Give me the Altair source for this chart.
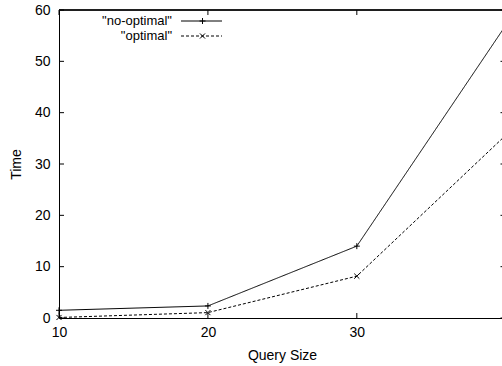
import altair as alt
import pandas as pd

# ---- data ----
series_names = ["no-optimal", "optimal"]
query_size = [10, 20, 30, 40]
no_optimal = [1.5, 2.35, 14.0, 57.0]
optimal = [0.1, 1.05, 8.15, 35.6]
x_tick_values = [10, 20, 30]
y_tick_values = [0, 10, 20, 30, 40, 50, 60]

rows = []
for name, vals in zip(series_names, [no_optimal, optimal]):
    for q, v in zip(query_size, vals):
        rows.append({"series": name, "size": q, "time": v})
df = pd.DataFrame(rows)

# ---- layout ----
W, H = 443, 308
X_VISIBLE_MAX = 39.75  # plot is cropped on the right, as in the reference
FONT = "Liberation Sans"
FS = 14

x_scale = alt.Scale(domain=[10, X_VISIBLE_MAX], nice=False, zero=False)
y_scale = alt.Scale(domain=[0, 60], nice=False, zero=False)

PLUS = "M-1,0H1M0,-1V1"
CROSS = "M-0.85,-0.85L0.85,0.85M-0.85,0.85L0.85,-0.85"

x_axis = alt.Axis(values=x_tick_values, grid=False, ticks=False, tickSize=0,
                  domainColor="black", domainWidth=1, labelColor="black",
                  labelFont=FONT, labelFontSize=FS, labelPadding=7, labelFlush=False,
                  title="Query Size", titleFont=FONT, titleFontSize=FS,
                  titleFontWeight="normal", titleColor="black",
                  titleX=223, titleY=37, titleAlign="center", titleBaseline="middle")
y_axis = alt.Axis(values=y_tick_values, grid=False, ticks=False, tickSize=0,
                  domainColor="black", domainWidth=1, labelColor="black",
                  labelFont=FONT, labelFontSize=FS, labelPadding=9, labelFlush=False,
                  title="Time", titleFont=FONT, titleFontSize=FS,
                  titleFontWeight="normal", titleColor="black", titleAngle=270,
                  titleX=-42.5, titleY=154, titleAlign="center", titleBaseline="middle")

base = alt.Chart(df)

lines = base.mark_line(color="black", strokeWidth=1, clip=True).encode(
    x=alt.X("size:Q", scale=x_scale, axis=x_axis),
    y=alt.Y("time:Q", scale=y_scale, axis=y_axis),
    strokeDash=alt.StrokeDash("series:N",
                              scale=alt.Scale(domain=series_names, range=[[1, 0], [3, 2]]),
                              legend=None),
    detail="series:N",
)

points = base.mark_point(filled=False, color="black", strokeWidth=1, size=36,
                         opacity=1).encode(
    x=alt.X("size:Q", scale=x_scale),
    y=alt.Y("time:Q", scale=y_scale),
    shape=alt.Shape("series:N", scale=alt.Scale(domain=series_names, range=[PLUS, CROSS]),
                    legend=None),
)

xt = pd.DataFrame({"v": x_tick_values})
yt = pd.DataFrame({"v": y_tick_values})

bottom_ticks = alt.Chart(xt).mark_rule(color="black", strokeWidth=1).encode(
    x=alt.X("v:Q", scale=x_scale), y=alt.value(H), y2=alt.value(H - 5))
top_ticks = alt.Chart(xt).mark_rule(color="black", strokeWidth=1).encode(
    x=alt.X("v:Q", scale=x_scale), y=alt.value(0), y2=alt.value(5))
left_ticks = alt.Chart(yt).mark_rule(color="black", strokeWidth=1).encode(
    y=alt.Y("v:Q", scale=y_scale), x=alt.value(0), x2=alt.value(5))
right_ticks = alt.Chart(yt).mark_rule(color="black", strokeWidth=1).encode(
    y=alt.Y("v:Q", scale=y_scale), x=alt.value(W - 1.5), x2=alt.value(W + 8))
top_border = alt.Chart(xt).mark_rule(color="black", strokeWidth=1).encode(
    y=alt.value(0), x=alt.value(0), x2=alt.value(W + 8))

# ---- gnuplot-style key (label, then sample) ----
legend_layers = []
for i, name in enumerate(series_names):
    ly = 11 + i * 15
    one = pd.DataFrame({"label": [f'"{name}"']})
    legend_layers.append(alt.Chart(one).mark_text(
        align="right", baseline="middle", font=FONT, fontSize=13, color="black").encode(
        text="label:N", x=alt.value(113), y=alt.value(ly)))
    legend_layers.append(alt.Chart(one).mark_rule(
        color="black", strokeWidth=1, strokeDash=[1, 0] if i == 0 else [3, 2]).encode(
        x=alt.value(122), x2=alt.value(163), y=alt.value(ly)))
    legend_layers.append(alt.Chart(one).mark_point(
        filled=False, color="black", strokeWidth=1, size=36, opacity=1,
        shape=PLUS if i == 0 else CROSS).encode(x=alt.value(143.5), y=alt.value(ly)))

chart = alt.layer(lines, points, bottom_ticks, top_ticks, left_ticks, right_ticks,
                  top_border, *legend_layers).properties(
    width=W, height=H,
    autosize=alt.AutoSizeParams(type="none"),
    padding={"left": 59, "top": 10, "right": 0, "bottom": 48},
    background="white",
).configure_view(stroke=None)

chart.save("out.html", embed_options={"renderer": "svg", "actions": False})
